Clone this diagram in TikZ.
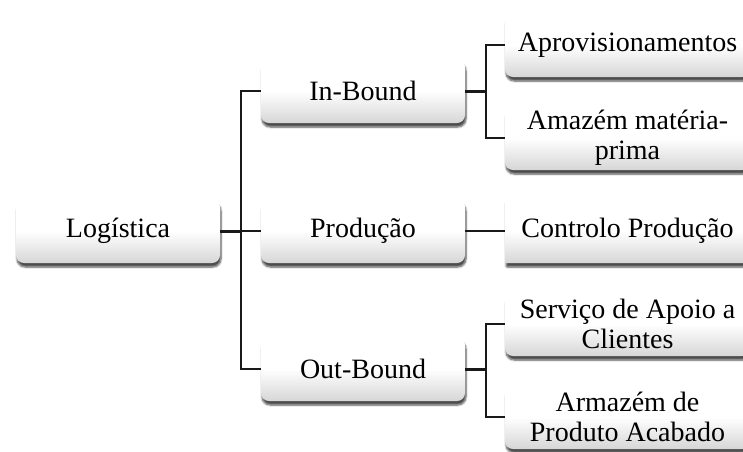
\documentclass[tikz,border=0pt]{standalone}
\usepackage{fontspec}
\setmainfont{Liberation Serif}
\usetikzlibrary{shadows.blur}
\begin{document}
\begin{tikzpicture}[x=1pt,y=-1pt,
  box/.style={rounded corners=8pt, minimum width=204pt, minimum height=64pt,
    inner sep=2pt, align=center, font=\fontsize{28}{30}\selectfont,
    top color=white, bottom color=black!16, middle color=white,
    shading angle=0,
    blur shadow={shadow xshift=1pt, shadow yshift=-4pt, shadow blur steps=6, shadow opacity=70}},
  leafbox/.style={box, minimum width=245pt},
  link/.style={line width=1.4pt, black!90},
  stem/.style={line width=3pt, black!90}]
\useasboundingbox (0,0) rectangle (743,451);
\begin{scope}
\clip (0,0) rectangle (743,451);
% root and first level
\node[box] (log)  at (118,231) {Logística};
\node[box] (inb)  at (363,91)  {In-Bound};
\node[box] (prod) at (363,231) {Produção};
\node[box] (outb) at (363,369) {Out-Bound};
% leaves
\node[leafbox] (aprov) at (627.5,45)  {Aprovisionamentos};
\node[leafbox] (amaz)  at (627.5,138) {Amazém matéria-\\prima};
\node[leafbox, rounded corners=1pt] (ctrl) at (627.5,231) {Controlo Produção};
\node[leafbox] (serv)  at (627.5,324) {Serviço de Apoio a\\Clientes};
\node[leafbox] (arm)   at (627.5,417) {Armazém de\\Produto Acabado};
\end{scope}
% branch points
\coordinate (t0) at (241,231);
\coordinate (t1) at (486,91);
\coordinate (t2) at (486,369);
% connectors from the root
\draw[stem] (log.east) -- (t0);
\draw[link] (inb.west) -| (t0);
\draw[link] (outb.west) -| (t0);
\draw[link] (t0) -- (prod.west);
% In-Bound branch
\draw[stem] (inb.east) -- (t1);
\draw[link] (aprov.west) -| (t1);
\draw[link] (amaz.west) -| (t1);
% Produção branch
\draw[link] (prod.east) -- (ctrl.west);
% Out-Bound branch
\draw[stem] (outb.east) -- (t2);
\draw[link] (serv.west) -| (t2);
\draw[link] (arm.west) -| (t2);
\end{tikzpicture}
\end{document}
